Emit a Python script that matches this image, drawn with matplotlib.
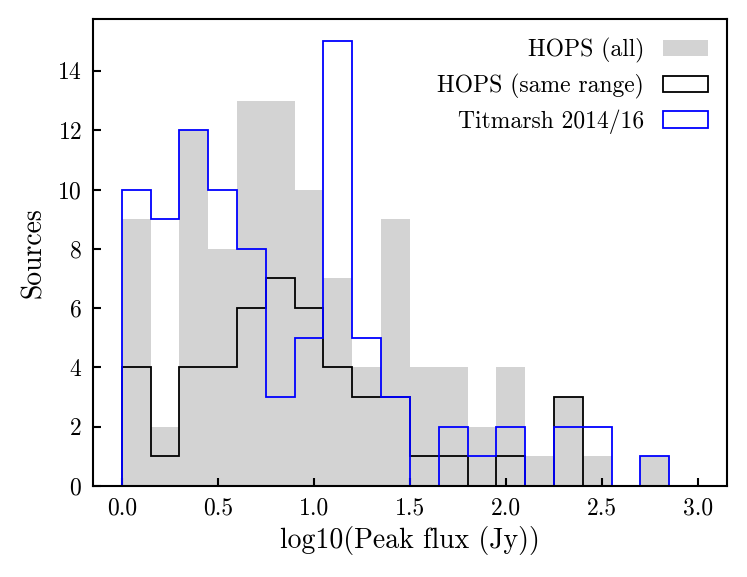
import numpy as np
import matplotlib
matplotlib.use("Agg")
import matplotlib.pyplot as plt

# bin edges: 0 to 3.0 in steps of 0.15
bin_edges = np.round(np.arange(0, 3.0001, 0.15), 2)
bin_left = bin_edges[:-1]

# counts per bin
hops_all = [9, 2, 12, 8, 13, 13, 10, 7, 4, 9, 4, 4, 2, 4, 1, 3, 1, 0, 1, 0]
hops_same = [4, 1, 4, 4, 6, 7, 6, 4, 3, 3, 1, 1, 0, 1, 0, 3, 0, 0, 0, 0]
titmarsh = [10, 9, 12, 10, 8, 3, 5, 15, 5, 3, 0, 2, 1, 2, 0, 2, 2, 0, 1, 0]

plt.rcParams["font.family"] = "serif"
plt.rcParams["font.serif"] = ["cmr10", "DejaVu Serif"]
plt.rcParams["mathtext.fontset"] = "cm"
plt.rcParams["axes.formatter.use_mathtext"] = True

fig = plt.figure(figsize=(7.47, 5.77), dpi=100)
ax = fig.add_axes([0.1245, 0.1577, 0.8485, 0.8093])

ax.hist(bin_left, bins=bin_edges, weights=hops_all, histtype="bar",
        rwidth=1.0, color="lightgray", label="HOPS (all)")
ax.hist(bin_left, bins=bin_edges, weights=hops_same, histtype="step",
        color="black", lw=1.3, label="HOPS (same range)")
ax.hist(bin_left, bins=bin_edges, weights=titmarsh, histtype="step",
        color="blue", lw=1.3, label="Titmarsh 2014/16")

ax.set_xlim(-0.15, 3.15)
ax.set_ylim(0, 15.75)
ax.set_xticks(np.arange(0, 3.01, 0.5))
ax.set_xticklabels([f"{v:.1f}" for v in np.arange(0, 3.01, 0.5)])
ax.set_yticks(range(0, 15, 2))

ax.set_xlabel("log10(Peak flux (Jy))", fontsize=20, labelpad=5)
ax.set_ylabel("Sources", fontsize=20, labelpad=7)

ax.tick_params(direction="in", length=6, width=1.5, labelsize=17, pad=8)
for s in ax.spines.values():
    s.set_linewidth(1.5)

ax.legend(loc="upper right", frameon=False, markerfirst=False, fontsize=17,
          handlelength=1.9, labelspacing=0.45, borderaxespad=0.4)

fig.savefig("out.png", dpi=100)
